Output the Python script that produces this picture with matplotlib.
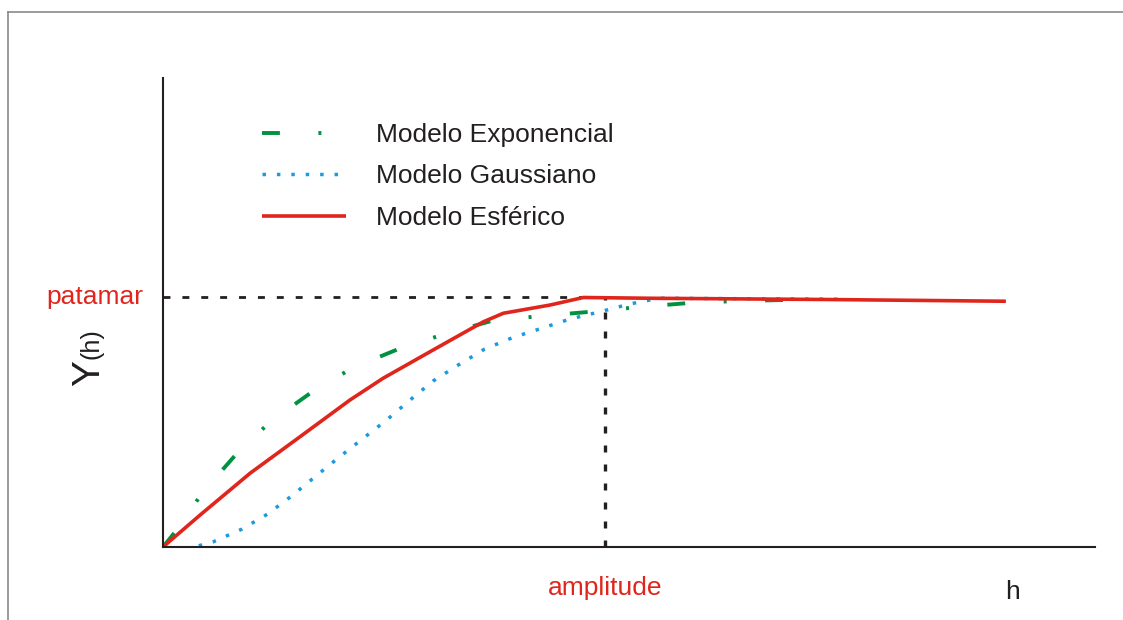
import matplotlib
matplotlib.use("Agg")
import matplotlib.pyplot as plt
from matplotlib.lines import Line2D

plt.rcParams["font.family"] = ["Liberation Sans", "DejaVu Sans"]

# --- Semivariogram model curves (h scaled so amplitude = 1, sill = 1) ---
PATAMAR = 1.0
AMPLITUDE = 1.0

exp_h = [0.0, 0.037, 0.089, 0.162, 0.242, 0.333, 0.428, 0.530, 0.637,
         0.745, 0.855, 0.968, 1.078, 1.190, 1.299, 1.432]
exp_y = [0.0, 0.081, 0.217, 0.364, 0.500, 0.615, 0.716, 0.790, 0.852,
         0.905, 0.924, 0.941, 0.960, 0.976, 0.984, 0.989]

gau_h = [0.081, 0.114, 0.178, 0.236, 0.291, 0.344, 0.397, 0.451, 0.506,
         0.557, 0.611, 0.668, 0.727, 0.790, 0.857, 0.921, 0.989, 1.056,
         1.122, 1.534]
gau_y = [0.005, 0.021, 0.071, 0.131, 0.204, 0.281, 0.357, 0.432, 0.508,
         0.585, 0.664, 0.728, 0.791, 0.837, 0.875, 0.912, 0.941, 0.972,
         0.995, 0.991]

esf_h = [0.0, 0.084, 0.197, 0.310, 0.423, 0.498, 0.611, 0.725, 0.770,
         0.876, 0.951, 1.100, 1.500, 1.907]
esf_y = [0.0, 0.128, 0.295, 0.441, 0.588, 0.675, 0.788, 0.901, 0.935,
         0.968, 0.998, 0.995, 0.990, 0.983]

labels = ["Modelo Exponencial", "Modelo Gaussiano", "Modelo Esférico"]

GREEN = "#00923f"
BLUE = "#1c9ae0"
RED = "#e0261c"
INK = "#231f20"

W, H = 1123, 620
fig = plt.figure(figsize=(W / 100, H / 100), dpi=100)
fig.patch.set_facecolor("white")

# axes box: origin at (163, 547) px, x-axis to 1095 px, y-axis up to 78 px
ax = fig.add_axes([163 / W, (H - 547) / H, (1095 - 163) / W, (547 - 78) / H])
ax.set_xlim(0, (1095 - 163) / 442)
ax.set_ylim(0, (547 - 78) / 250)
for side in ("top", "right"):
    ax.spines[side].set_visible(False)
for side in ("left", "bottom"):
    ax.spines[side].set_color(INK)
    ax.spines[side].set_linewidth(1.5)
ax.set_xticks([])
ax.set_yticks([])

# sill and range guides
ax.plot([0, 0.966], [PATAMAR, PATAMAR], color=INK, lw=2.0,
        linestyle=(0, (2.5, 4.3)))
ax.plot([AMPLITUDE, AMPLITUDE], [0, PATAMAR], color=INK, lw=2.4,
        linestyle=(0, (2.1, 3.6)))

l_exp, = ax.plot(exp_h, exp_y, color=GREEN, lw=2.8,
                 linestyle=(0, (4.6, 9.9, 0.77, 9.9)), label=labels[0])
l_gau, = ax.plot(gau_h, gau_y, color=BLUE, lw=2.5,
                 linestyle=(0, (1.0, 3.15)), label=labels[1])
l_esf, = ax.plot(esf_h, esf_y, color=RED, lw=2.6, label=labels[2],
                 solid_capstyle="butt", solid_joinstyle="round")

leg = ax.legend(handles=[l_exp, l_gau, l_esf], loc="upper left",
                bbox_to_anchor=(262 / W, 1 - 123 / H),
                bbox_transform=fig.transFigure, frameon=False,
                fontsize=19, handlelength=3.18, handletextpad=1.14,
                labelspacing=0.66, borderpad=0, borderaxespad=0)
for t in leg.get_texts():
    t.set_color(INK)

ax.text(-0.045, PATAMAR, "patamar", color=RED, fontsize=19,
        ha="right", va="center", clip_on=False)
ax.text(AMPLITUDE, -0.164, "amplitude", color=RED, fontsize=19,
        ha="center", va="center", clip_on=False)
ax.text(1.923, -0.18, "h", color=INK, fontsize=19,
        ha="center", va="center", clip_on=False)

# y label: Y with (h), rotated
fig.text(89 / W, 1 - 373 / H, "Y", fontsize=28, rotation=90,
         ha="center", va="center", color=INK)
fig.text(92 / W, 1 - 344 / H, "(h)", fontsize=18, rotation=90,
         ha="center", va="center", color=INK)

# outer frame (left and top edges)
fig.add_artist(Line2D([8 / W, 8 / W], [0, 1 - 12 / H], color="#8a8a8a",
                      lw=1.2, transform=fig.transFigure))
fig.add_artist(Line2D([8 / W, 1], [1 - 12 / H, 1 - 12 / H], color="#8a8a8a",
                      lw=1.2, transform=fig.transFigure))

fig.savefig("out.png", dpi=100)
